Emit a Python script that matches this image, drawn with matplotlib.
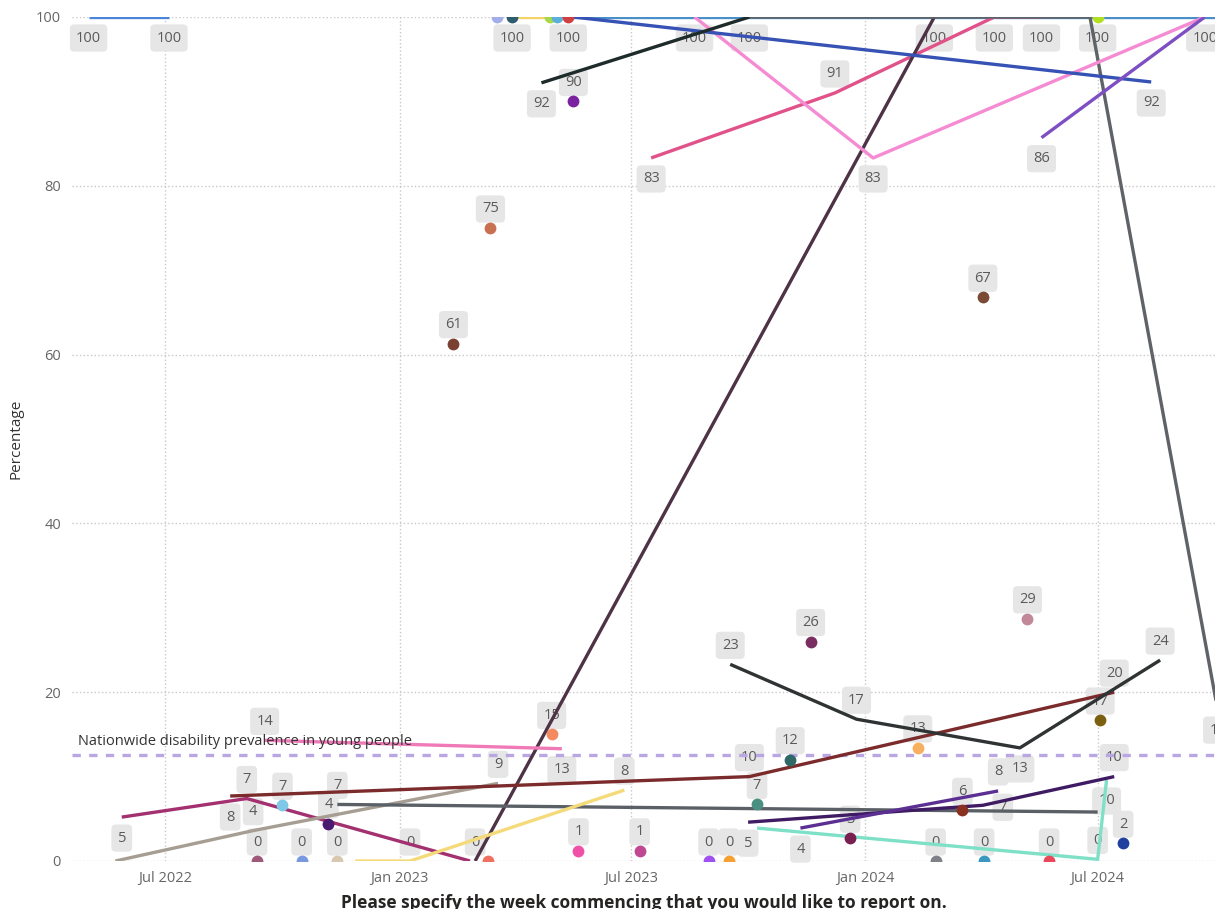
import matplotlib
matplotlib.use("Agg")
import matplotlib.pyplot as plt
import matplotlib.dates as mdates
import pandas as pd

plt.rcParams['font.family'] = ['Open Sans', 'DejaVu Sans']

# line series: week commencing -> percentage
sky_dates = ["2022-05-02", "2022-07-04"]
sky_vals = [100, 100]
steel_dates = ["2023-05-13", "2024-10-05"]
steel_vals = [100, 100]
gray_dates = ["2023-10-02", "2024-06-25", "2024-10-03"]
gray_vals = [100, 100, 18]
royal_dates = ["2023-05-17", "2024-08-12"]
royal_vals = [100, 92.3]
black_dates = ["2023-04-22", "2023-10-02"]
black_vals = [92.2, 100]
plum_dates = ["2023-03-01", "2024-02-24"]
plum_vals = [0, 100]
pink_light_dates = ["2023-08-20", "2024-01-07", "2024-09-23"]
pink_light_vals = [100, 83.3, 100]
rose_dates = ["2023-07-17", "2023-12-08", "2024-04-11", "2024-05-18"]
rose_vals = [83.3, 91, 100, 100]
violet_dates = ["2024-05-18", "2024-09-23"]
violet_vals = [85.7, 100]
yellow_top_dates = ["2023-03-30", "2023-04-29"]
yellow_top_vals = [100, 100]
magenta_dates = ["2022-05-28", "2022-09-03", "2023-02-25"]
magenta_vals = [5.2, 7.4, 0]
beige_dates = ["2022-05-23", "2022-09-08", "2023-03-19"]
beige_vals = [0, 3.6, 9.2]
brownred_dates = ["2022-08-21", "2023-10-02", "2024-07-14"]
brownred_vals = [7.7, 10, 20]
slate_dates = ["2022-11-13", "2024-07-01"]
slate_vals = [6.7, 5.8]
yellow_dates = ["2022-11-27", "2023-01-09", "2023-06-26"]
yellow_vals = [0, 0, 8.4]
pink_dates = ["2022-09-17", "2023-05-08"]
pink_vals = [14.3, 13.3]
charcoal_dates = ["2023-09-17", "2023-12-25", "2024-05-01", "2024-08-19"]
charcoal_vals = [23.3, 16.8, 13.4, 23.8]
aqua_dates = ["2023-10-08", "2024-07-01", "2024-07-08"]
aqua_vals = [3.9, 0.2, 9.6]
indigo_dates = ["2023-10-01", "2024-04-02", "2024-07-14"]
indigo_vals = [4.6, 6.6, 10]
purple_dates = ["2023-11-11", "2024-04-14"]
purple_vals = [3.9, 8.3]

# single-week series (dots)
dot_dates = ["2023-03-18", "2023-03-30", "2023-04-29", "2023-05-04", "2023-05-13", "2024-07-01",
             "2023-05-17", "2023-03-13", "2023-02-12", "2024-04-02", "2023-11-19", "2024-05-07",
             "2024-07-03", "2023-04-30", "2022-10-01", "2022-11-06", "2022-09-11", "2022-10-16",
             "2022-11-13", "2023-03-11", "2023-05-21", "2023-07-08", "2023-08-31", "2023-09-16",
             "2023-10-08", "2023-11-03", "2023-12-20", "2024-02-11", "2024-02-25", "2024-04-03",
             "2024-05-24", "2024-07-21", "2024-03-17"]
dot_vals = [100, 100, 100, 100, 100, 100,
            90, 75, 61.3, 66.8, 26, 28.7,
            16.7, 15, 6.6, 4.4, 0, 0,
            0, 0, 1.2, 1.2, 0, 0,
            6.7, 12, 2.7, 13.4, 0, 0,
            0, 2.1, 6]

prevalence = 12.6
prevalence_label = "Nationwide disability prevalence in young people"

# style: (dates, values, colour, label placement per point: a above, b below, r right, - none)
lines = [
    (steel_dates, steel_vals, '#4a90c8', '--'),
    (sky_dates, sky_vals, '#4a86d8', 'bb'),
    (yellow_top_dates, yellow_top_vals, '#f5d26a', '--'),
    (rose_dates, rose_vals, '#e1528a', 'babb'),
    (plum_dates, plum_vals, '#4d3345', 'ab'),
    (gray_dates, gray_vals, '#5f6266', 'b-b'),
    (pink_light_dates, pink_light_vals, '#f58bd2', 'bbb'),
    (royal_dates, royal_vals, '#3652b4', '-b'),
    (black_dates, black_vals, '#1d2b2a', 'b-'),
    (violet_dates, violet_vals, '#7d4fc3', 'b-'),
    (magenta_dates, magenta_vals, '#a3306f', 'ba-'),
    (beige_dates, beige_vals, '#a69e93', '-aa'),
    (brownred_dates, brownred_vals, '#7b2b2b', 'baa'),
    (slate_dates, slate_vals, '#5b6067', 'a-'),
    (yellow_dates, yellow_vals, '#f5da7a', '-aa'),
    (pink_dates, pink_vals, '#f07ab8', 'ab'),
    (charcoal_dates, charcoal_vals, '#2f3333', 'aaba'),
    (aqua_dates, aqua_vals, '#7fe0c8', '-ab'),
    (indigo_dates, indigo_vals, '#3f1b63', 'bra'),
    (purple_dates, purple_vals, '#5c2f93', 'ba'),
]
dot_colors = ['#a3aee8', '#2d5d6e', '#a8d848', '#5ab0d8', '#d04040', '#b0e020',
              '#7a22a0', '#c87050', '#7a4030', '#7a4a35', '#7a2d60', '#c08898',
              '#7a6010', '#f58a60', '#80c8e8', '#4a1a70', '#a05878', '#7898e0',
              '#d8c8b0', '#f07060', '#f050a8', '#c04890', '#a050f0', '#f5a030',
              '#4a9080', '#306868', '#7a2050', '#f8b060', '#808088', '#3898c0',
              '#e84858', '#2040a0', '#8a3020']
dot_labels = '-b--bb' + 'aaaaaa' + 'aaaaaa' + 'a-aaaa' + 'aaaaaa' + 'aaa'

offsets = {'a': (0, 19), 'b': (0, -21), 'r': (20, -2)}


def put_label(ax, x, v, where):
    if where == '-':
        return
    ax.annotate(f"{round(v):d}", (x, v), xytext=offsets[where], textcoords='offset pixels',
                ha='center', va='center', fontsize=10.5, color='#5a5a5a', zorder=2,
                annotation_clip=False,
                bbox=dict(boxstyle='round,pad=0.42,rounding_size=0.3', fc='#e6e6e6', ec='none'))


fig = plt.figure(figsize=(12.15, 9.09), dpi=100)
ax = fig.add_axes([72 / 1215, 48 / 909, (1215 - 72) / 1215, 844 / 909])

for dates, vals, color, where in lines:
    xs = pd.to_datetime(dates)
    ax.plot(xs, vals, color=color, lw=2.4, solid_capstyle='butt', zorder=3)
    for x, v, w in zip(xs, vals, where):
        put_label(ax, x, v, w)

dx = pd.to_datetime(dot_dates)
for x, v, c, w in zip(dx, dot_vals, dot_colors, dot_labels):
    ax.plot([x], [v], 'o', color=c, ms=8.5, mec='none', zorder=4)
    put_label(ax, x, v, w)

ax.axhline(prevalence, color='#b9a6e3', lw=2.4, ls=(0, (2.5, 2.5)), zorder=2.5)
ax.annotate(prevalence_label, (0.005, prevalence), xycoords=('axes fraction', 'data'),
            xytext=(0, 6), textcoords='offset pixels', ha='left', va='bottom',
            fontsize=10.5, color='#333333', zorder=5)

ax.set_ylim(0, 100)
ax.set_xlim(pd.Timestamp("2022-04-19"), pd.Timestamp("2024-10-01"))
ax.set_yticks([0, 20, 40, 60, 80, 100])
ax.set_xticks(pd.to_datetime(["2022-07-01", "2023-01-01", "2023-07-01", "2024-01-01", "2024-07-01"]))
ax.xaxis.set_major_formatter(mdates.DateFormatter('%b %Y'))
ax.tick_params(length=0, labelsize=10.5, labelcolor='#666666')
ax.tick_params(axis='x', pad=7)
ax.tick_params(axis='y', pad=8)
ax.grid(True, color='#c8c8c8', ls=':', lw=1)
ax.set_axisbelow(True)
for s in ax.spines.values():
    s.set_visible(False)

ax.set_ylabel("Percentage", fontsize=11, color='#333333', labelpad=9)
ax.set_xlabel("Please specify the week commencing that you would like to report on.",
              fontsize=12.5, fontweight='bold', color='#252423', labelpad=6)

fig.savefig('out.png', dpi=100)
